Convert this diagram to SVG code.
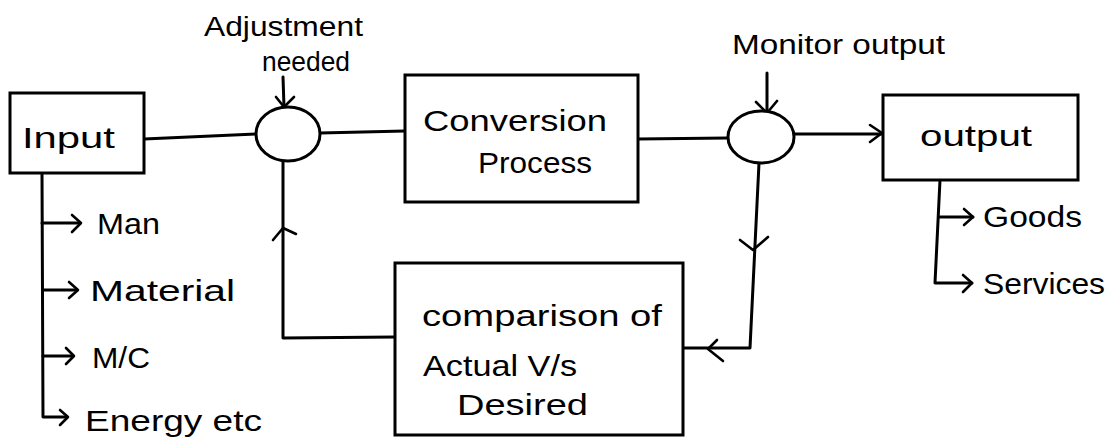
<svg xmlns="http://www.w3.org/2000/svg" width="1107" height="443" viewBox="0 0 1107 443">
<style>
.box{fill:#fff;stroke:#000;stroke-width:3}
.ln{fill:none;stroke:#000;stroke-width:3;stroke-linecap:round;stroke-linejoin:round}
.hd{fill:none;stroke:#000;stroke-width:2.6;stroke-linecap:round;stroke-linejoin:round}
.t{font-family:"Liberation Sans","DejaVu Sans",sans-serif;font-size:30px;fill:#000}
.s{font-size:27px}
</style>
<rect width="1107" height="443" fill="#fff"/>
<g id="connectors">
<path class="ln" d="M144,139 L256,134"/>
<path class="ln" d="M283,77 L284,107"/>
<path class="hd" d="M276,97 L284,107 L294,97"/>
<path class="ln" d="M320,133 L405,131"/>
<path class="ln" d="M638,139 L728,138"/>
<path class="ln" d="M767,73 L767,113"/>
<path class="hd" d="M756,102 L767,113 L777,101"/>
<path class="ln" d="M793,134 L882,134"/>
<path class="hd" d="M870,125 L882,133 L870,142"/>
<path class="ln" d="M759,163 L750,348 L683,348"/>
<path class="hd" d="M740,240 L753,250 L768,237"/>
<path class="hd" d="M717,340 L708,349 L723,361"/>
<path class="ln" d="M395,337 L283,338 L283,160"/>
<path class="hd" d="M273,240 L283,228 L296,234"/>
<path class="ln" d="M42,173 L43,417 L66,417"/>
<path class="ln" d="M42,223 L80,223"/>
<path class="ln" d="M43,290 L77,290"/>
<path class="ln" d="M43,356 L73,356"/>
<path class="hd" d="M72,215 L81,223 L72,232"/>
<path class="hd" d="M69,282 L78,290 L69,298"/>
<path class="hd" d="M66,348 L74,356 L66,364"/>
<path class="hd" d="M60,410 L68,417 L60,425"/>
<path class="ln" d="M940,180 L935,283 L972,283"/>
<path class="ln" d="M940,217 L973,217"/>
<path class="hd" d="M964,209 L973,217 L964,225"/>
<path class="hd" d="M963,275 L972,283 L963,292"/>
</g>
<g id="input">
<rect class="box" x="10" y="93" width="134" height="80"/>
<text class="t" x="22" y="148" textLength="93" lengthAdjust="spacingAndGlyphs">Input</text>
</g>
<g id="adjust">
<ellipse class="box" cx="288" cy="134" rx="32" ry="27"/>
<text class="t s" x="204" y="36" textLength="159" lengthAdjust="spacingAndGlyphs">Adjustment</text>
<text class="t s" x="262" y="71" textLength="88" lengthAdjust="spacingAndGlyphs">needed</text>
</g>
<g id="conversion">
<rect class="box" x="405" y="75" width="233" height="127"/>
<text class="t" x="423" y="131" textLength="184" lengthAdjust="spacingAndGlyphs">Conversion</text>
<text class="t" x="478" y="173" textLength="114" lengthAdjust="spacingAndGlyphs">Process</text>
</g>
<g id="monitor">
<ellipse class="box" cx="761" cy="137" rx="33" ry="26"/>
<text class="t s" x="732" y="54" textLength="213" lengthAdjust="spacingAndGlyphs">Monitor output</text>
</g>
<g id="output">
<rect class="box" x="883" y="95" width="195" height="85"/>
<text class="t" x="920" y="146" textLength="112" lengthAdjust="spacingAndGlyphs">output</text>
<text class="t" x="983" y="227" textLength="99" lengthAdjust="spacingAndGlyphs">Goods</text>
<text class="t" x="983" y="294" textLength="122" lengthAdjust="spacingAndGlyphs">Services</text>
</g>
<g id="comparison">
<rect class="box" x="395" y="263" width="288" height="172"/>
<text class="t" x="422" y="326" textLength="240" lengthAdjust="spacingAndGlyphs">comparison of</text>
<text class="t" x="423" y="376" textLength="154" lengthAdjust="spacingAndGlyphs">Actual V/s</text>
<text class="t" x="457" y="415" textLength="131" lengthAdjust="spacingAndGlyphs">Desired</text>
</g>
<g id="inputs">
<text class="t" x="97" y="234" textLength="63" lengthAdjust="spacingAndGlyphs">Man</text>
<text class="t" x="90" y="301" textLength="145" lengthAdjust="spacingAndGlyphs">Material</text>
<text class="t" x="92" y="368" textLength="58" lengthAdjust="spacingAndGlyphs">M/C</text>
<text class="t" x="85" y="431" textLength="177" lengthAdjust="spacingAndGlyphs">Energy etc</text>
</g>
</svg>
